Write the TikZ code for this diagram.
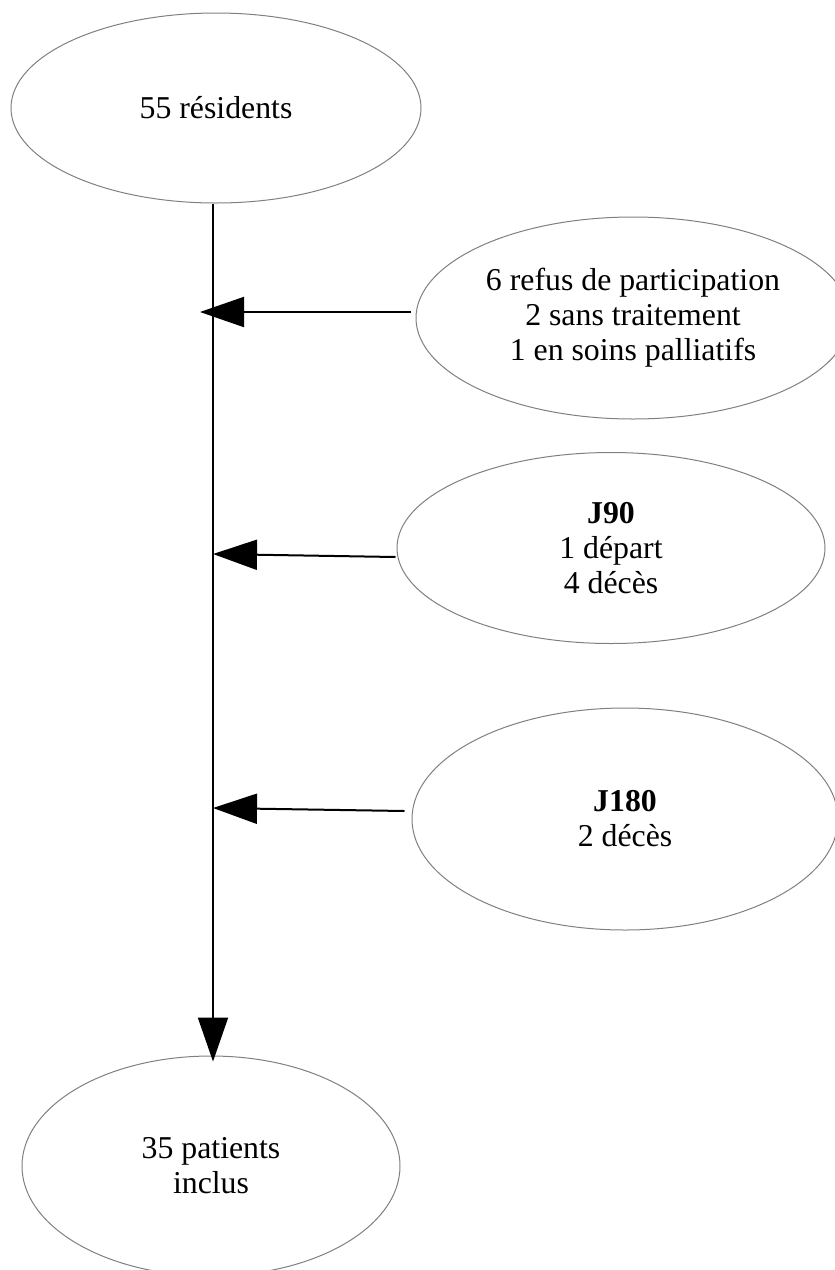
\documentclass[tikz,border=0pt]{standalone}
\usepackage{fontspec}
\setmainfont{Liberation Serif}
\usetikzlibrary{shapes.geometric,arrows.meta,calc}
\definecolor{ringgray}{RGB}{128,128,128}
\tikzset{
  oval/.style={ellipse, draw=ringgray, line width=1pt, inner sep=0pt,
    align=center, font=\fontsize{31.8}{35}\selectfont},
  link/.style={line width=2pt, draw=black,
    -{Triangle[length=44pt,width=30pt]}},
}
\begin{document}
\begin{tikzpicture}[x=1pt,y=-1pt]
\useasboundingbox (0,0) rectangle (835,1270);
\clip (0,0) rectangle (835,1270);
\fill[white] (0,0) rectangle (835,1270);
\node[oval, minimum width=410pt, minimum height=190pt] (top) at (216,108) {55 résidents};
\node[oval, minimum width=434pt, minimum height=202pt] (r1) at (633,318) {6 refus de participation\\2 sans traitement\\1 en soins palliatifs};
\node[oval, minimum width=428pt, minimum height=191pt] (r2) at (611,548) {\textbf{J90}\\1 départ\\4 décès};
\node[oval, minimum width=426pt, minimum height=222pt] (r3) at (625,819) {\textbf{J180}\\2 décès};
\node[oval, minimum width=378pt, minimum height=220pt] (bot) at (211,1166) {35 patients\\inclus};
% points on the main vertical line where the side arrows end
\coordinate (m1) at (200,312);
\coordinate (m2) at (213,554);
\coordinate (m3) at (213,808);
\draw[link] (top.south -| m3) -- ($(bot.north -| m3)+(0,6)$);
\draw[link] ($(r1.west)+(-5,-6)$) -- (m1);
\draw[link] ($(r2.west)+(-1,9)$) -- (m2);
\draw[link] ($(r3.west)+(-7,-8)$) -- (m3);
\end{tikzpicture}
\end{document}
